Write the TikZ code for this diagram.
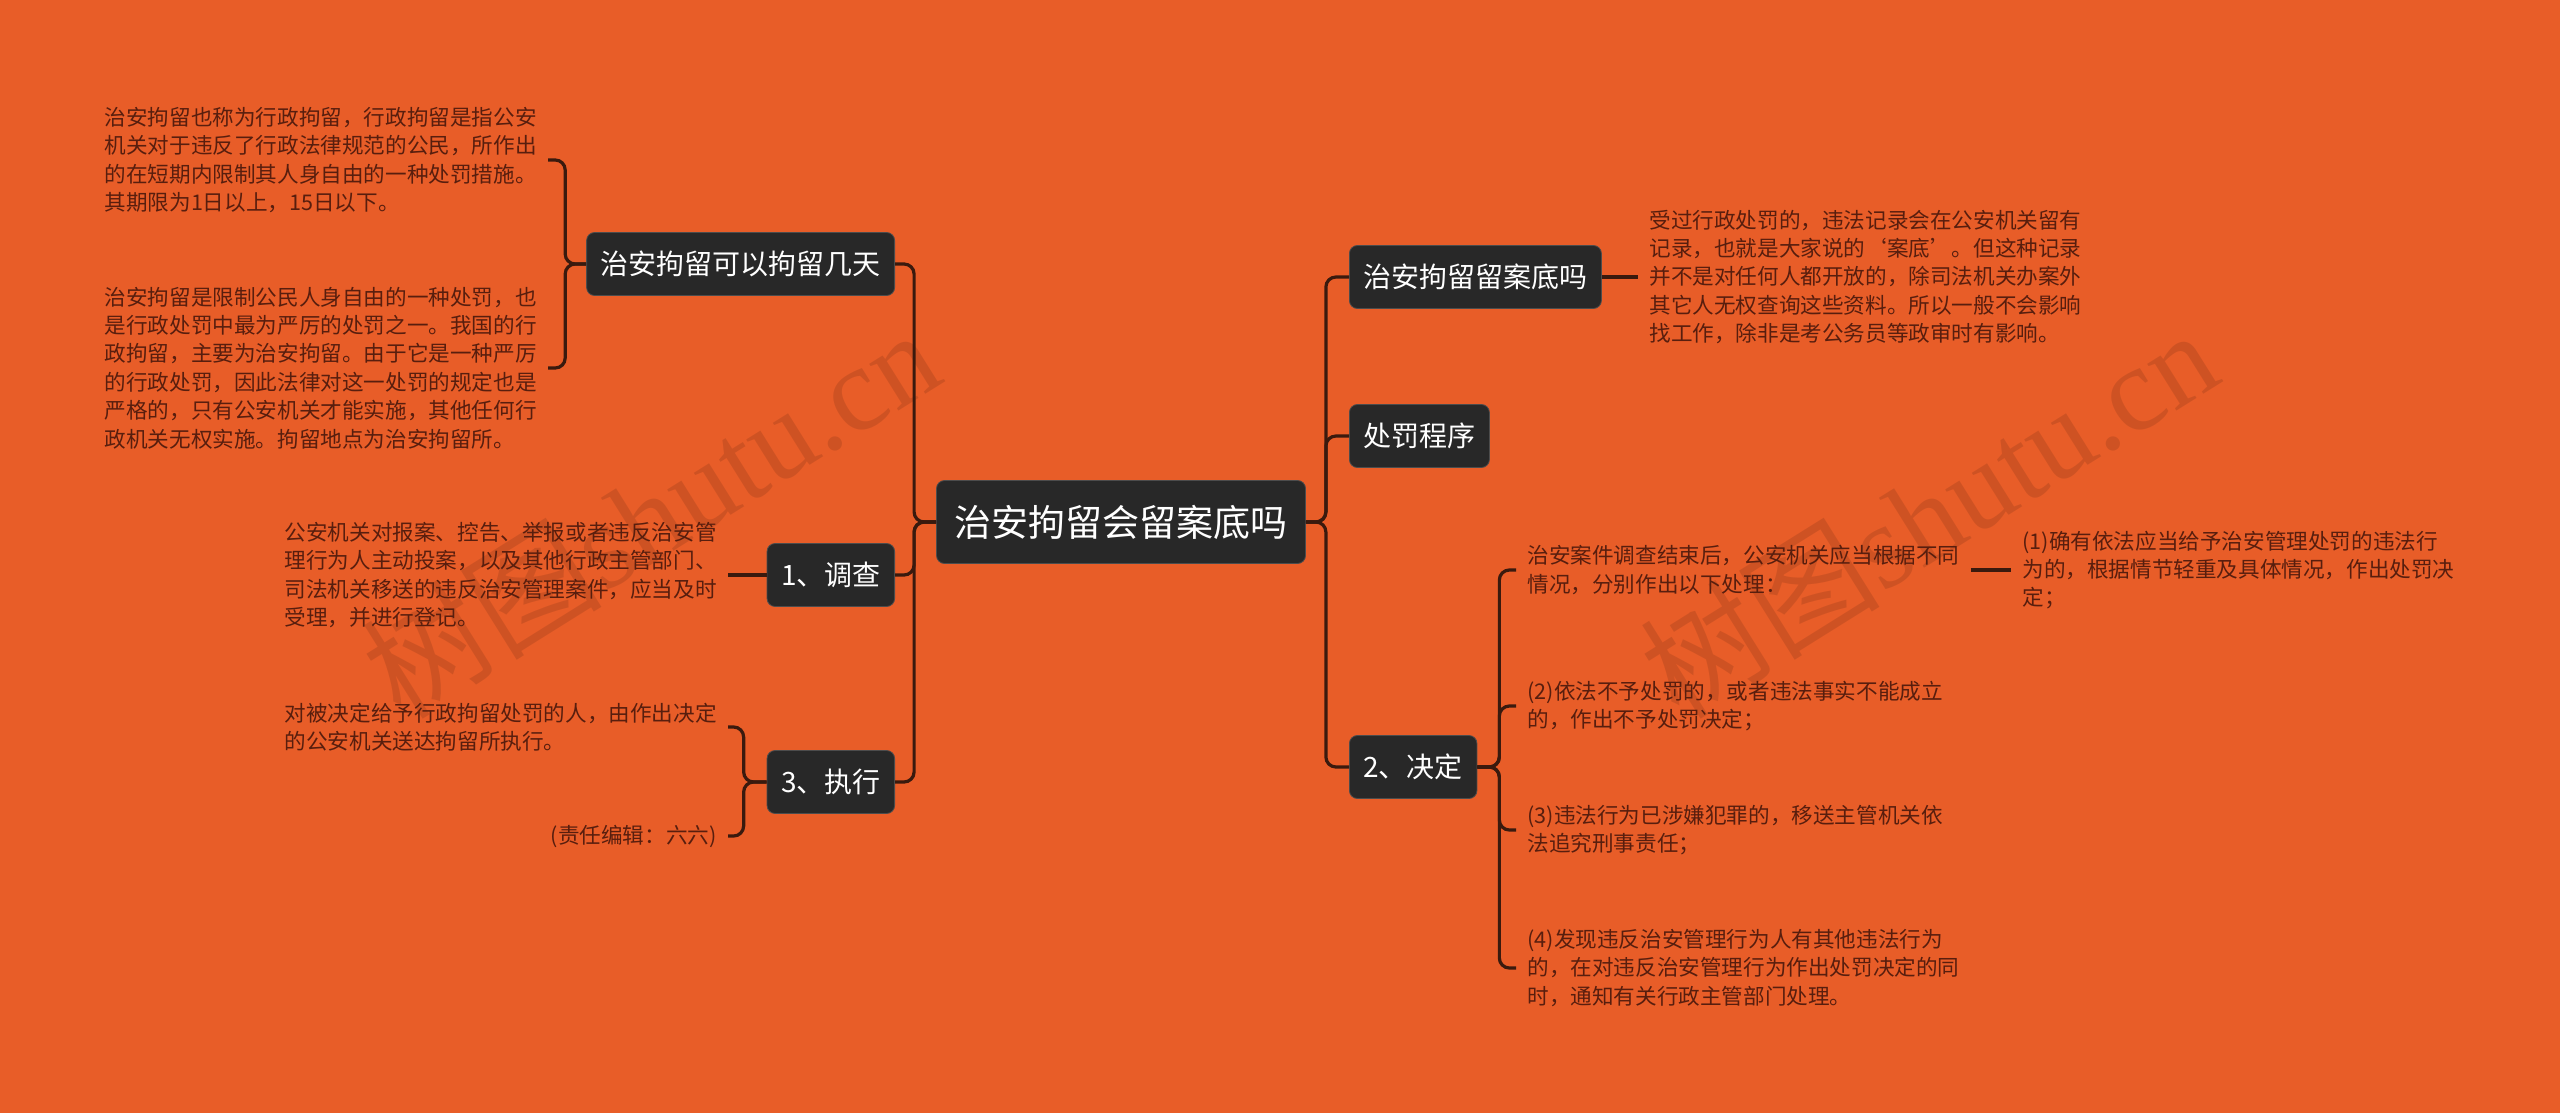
\documentclass[tikz,border=0pt]{standalone}
\usepackage{fontspec}
\setmainfont{Noto Sans CJK SC}
\newfontfamily\markfont{Liberation Serif}
\usetikzlibrary{positioning}
\definecolor{bgorange}{RGB}{232,93,40}
\definecolor{boxgray}{RGB}{40,40,40}
\definecolor{linkbrown}{RGB}{58,26,14}
\definecolor{leafbrown}{RGB}{88,30,14}

\begin{document}
\begin{tikzpicture}[x=0.5pt,y=-0.5pt,
  rootbox/.style={fill=boxgray, draw=black!70, line width=0.4pt, rounded corners=4pt, text=white, font=\fontsize{18.5}{22}\selectfont, inner xsep=9pt, minimum height=41.5pt},
  branchbox/.style={fill=boxgray, draw=black!70, line width=0.4pt, rounded corners=4pt, text=white, font=\fontsize{14}{17}\selectfont, inner xsep=7pt, minimum height=31.5pt},
  leaftext/.style={text=leafbrown, font=\fontsize{10.8}{14.2}\selectfont, align=left, inner xsep=5.5pt, inner ysep=0pt},
  link/.style={draw=linkbrown, line width=1.6pt, rounded corners=5pt},
  wmark/.style={text=black, text opacity=0.11, font=\fontsize{60}{62}\selectfont},
]
% page and background
\useasboundingbox[fill=bgorange] (0,0) rectangle (2560,1113);
% faint watermarks
\node[wmark, rotate=32] (markL) at (650,512) {树图\markfont shutu.cn};
\node[wmark, rotate=32] (markR) at (1928,512) {树图\markfont shutu.cn};
% the root and its six topics
\node[rootbox] (root) at (1121,522) {治安拘留会留案底吗};
\node[branchbox, anchor=east] (days) at (895,264) {治安拘留可以拘留几天};
\node[branchbox, anchor=east] (survey) at (895,575) {1、调查};
\node[branchbox, anchor=east] (execute) at (895,782) {3、执行};
\node[branchbox, anchor=west] (record) at (1349,277) {治安拘留留案底吗};
\node[branchbox, anchor=west] (procedure) at (1349,436) {处罚程序};
\node[branchbox, anchor=west] (decide) at (1349,767) {2、决定};
% texts on the left
\node[leaftext, anchor=east] (daysA) at (548,160) {治安拘留也称为行政拘留，行政拘留是指公安\\机关对于违反了行政法律规范的公民，所作出\\的在短期内限制其人身自由的一种处罚措施。\\其期限为1日以上，15日以下。};
\node[leaftext, anchor=east] (daysB) at (548,368) {治安拘留是限制公民人身自由的一种处罚，也\\是行政处罚中最为严厉的处罚之一。我国的行\\政拘留，主要为治安拘留。由于它是一种严厉\\的行政处罚，因此法律对这一处罚的规定也是\\严格的，只有公安机关才能实施，其他任何行\\政机关无权实施。拘留地点为治安拘留所。};
\node[leaftext, anchor=east] (surveyA) at (728,575) {公安机关对报案、控告、举报或者违反治安管\\理行为人主动投案，以及其他行政主管部门、\\司法机关移送的违反治安管理案件，应当及时\\受理，并进行登记。};
\node[leaftext, anchor=east] (executeA) at (728,727) {对被决定给予行政拘留处罚的人，由作出决定\\的公安机关送达拘留所执行。};
\node[leaftext, anchor=east] (executeB) at (728,836) {(责任编辑：六六)};
% texts on the right
\node[leaftext, anchor=west] (recordA) at (1638,277) {受过行政处罚的，违法记录会在公安机关留有\\记录，也就是大家说的‘案底’。但这种记录\\并不是对任何人都开放的，除司法机关办案外\\其它人无权查询这些资料。所以一般不会影响\\找工作，除非是考公务员等政审时有影响。};
\node[leaftext, anchor=west] (decideA) at (1516,570) {治安案件调查结束后，公安机关应当根据不同\\情况，分别作出以下处理：};
\node[leaftext, anchor=west] (decideA1) at (2011,570) {(1)确有依法应当给予治安管理处罚的违法行\\为的，根据情节轻重及具体情况，作出处罚决\\定；};
\node[leaftext, anchor=west] (decideB) at (1516,706) {(2)依法不予处罚的，或者违法事实不能成立\\的，作出不予处罚决定；};
\node[leaftext, anchor=west] (decideC) at (1516,830) {(3)违法行为已涉嫌犯罪的，移送主管机关依\\法追究刑事责任；};
\node[leaftext, anchor=west] (decideD) at (1516,968) {(4)发现违反治安管理行为人有其他违法行为\\的，在对违反治安管理行为作出处罚决定的同\\时，通知有关行政主管部门处理。};
% spines from the root
\foreach \n in {days,survey,execute} \draw[link] (root.west) -- ++(-22,0) |- (\n.east);
\foreach \n in {record,procedure,decide} \draw[link] (root.east) -- ++(20,0) |- (\n.west);
% brackets and ties to the texts
\foreach \n in {daysA,daysB} \draw[link] (days.west) -- ++(-21,0) |- (\n.east);
\draw[link] (survey.west) -- (surveyA.east);
\foreach \n in {executeA,executeB} \draw[link] (execute.west) -- ++(-23,0) |- (\n.east);
\draw[link] (record.east) -- (recordA.west);
\foreach \n in {decideA,decideB,decideC,decideD} \draw[link] (decide.east) -- ++(22,0) |- (\n.west);
\draw[link] (decideA.east) -- (decideA1.west);
\end{tikzpicture}
\end{document}
